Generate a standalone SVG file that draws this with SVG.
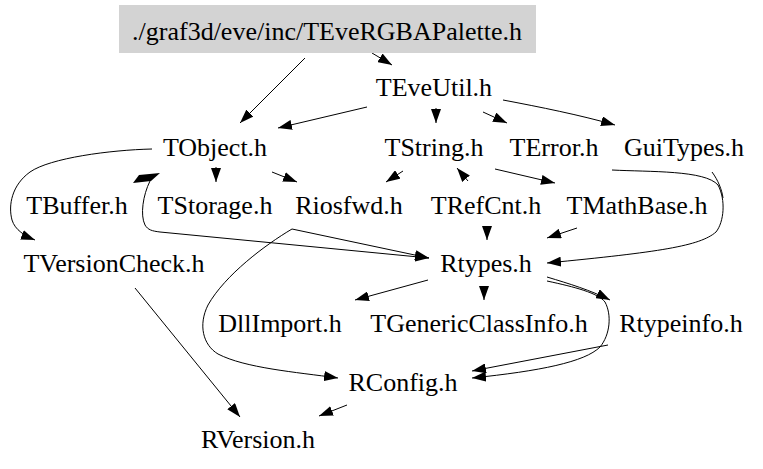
<svg xmlns="http://www.w3.org/2000/svg" width="763" height="469" viewBox="0 0 763 469">
<defs>
<style>
.t{font-family:'Liberation Serif','Times New Roman',Times,'DejaVu Serif',serif;font-size:26px;fill:#000;text-anchor:middle}
.e{fill:none;stroke:#000;stroke-width:1;marker-end:url(#ah)}
.n{fill:none;stroke:#000;stroke-width:1}
</style>
<marker id="ah" viewBox="0 0 14 10" refX="14" refY="5" markerWidth="14" markerHeight="10" markerUnits="userSpaceOnUse" orient="auto"><path d="M0,0 L14,5 L0,10 z" fill="#000"/></marker>
</defs>
<rect width="763" height="469" fill="#fff"/>
<g id="connectors">
<path class="e" d="M305,58 L240,123"/>
<path class="e" d="M372,53 L392,65"/>
<path class="e" d="M367,107 L278,128"/>
<path class="e" d="M436,108 L436,123"/>
<path class="e" d="M483,112 L507,123"/>
<path class="e" d="M503,100 C540,107 580,115 615,125"/>
<path class="e" d="M152,149 C110,150 50,158 30,172 C12,185 8,205 12,220 C15,230 25,236 35,240"/>
<path class="e" d="M216,167 L216,182"/>
<path class="e" d="M272,172 L297,182"/>
<polygon points="133,183 139,175 160,173 151,181" fill="#000"/>
<path class="e" d="M150,181 C143,195 140,215 145,225 C148,230 152,231 160,232 L429,258"/>
<path class="e" d="M292,229 L429,258"/>
<path class="e" d="M292,229 C265,245 225,275 208,305 C198,325 203,345 218,354 C245,368 295,372 338,378"/>
<path class="e" d="M403,171 L386,182"/>
<path class="e" d="M468,181 L457,168"/>
<path class="e" d="M495,169 L555,183"/>
<path class="e" d="M487,226 L487,240"/>
<path class="e" d="M577,228 L547,238"/>
<path class="e" d="M612,170 C650,172 705,170 718,185 C726,200 724,222 716,232 C700,246 660,252 547,263"/>
<path class="n" d="M712,172 C718,180 722,190 723,198"/>
<path class="e" d="M428,280 L355,300"/>
<path class="e" d="M484,286 L484,300"/>
<path class="e" d="M547,277 C570,284 590,290 610,300"/>
<path class="e" d="M547,281 C575,287 598,293 605,302 C612,315 610,335 600,347 C585,362 540,371 472,378"/>
<path class="e" d="M608,345 L472,371"/>
<path class="e" d="M135,288 L240,417"/>
<path class="e" d="M347,405 L319,416"/>
</g>
<g class="t" font-family="Liberation Serif, Times New Roman, serif" font-size="26" text-anchor="middle">
<g id="node-TEveRGBAPalette"><rect x="119" y="5" width="417" height="48" fill="#d3d3d3"/><text class="t" x="327" y="40">./graf3d/eve/inc/TEveRGBAPalette.h</text></g>
<g id="node-TEveUtil"><text class="t" x="434" y="96">TEveUtil.h</text></g>
<g id="node-TObject"><text class="t" x="215" y="156">TObject.h</text></g>
<g id="node-TString"><text class="t" x="434" y="156">TString.h</text></g>
<g id="node-TError"><text class="t" x="554" y="156">TError.h</text></g>
<g id="node-GuiTypes"><text class="t" x="684" y="156">GuiTypes.h</text></g>
<g id="node-TBuffer"><text class="t" x="77" y="214">TBuffer.h</text></g>
<g id="node-TStorage"><text class="t" x="215" y="214">TStorage.h</text></g>
<g id="node-Riosfwd"><text class="t" x="349" y="214">Riosfwd.h</text></g>
<g id="node-TRefCnt"><text class="t" x="486" y="214">TRefCnt.h</text></g>
<g id="node-TMathBase"><text class="t" x="637" y="214">TMathBase.h</text></g>
<g id="node-TVersionCheck"><text class="t" x="114" y="272">TVersionCheck.h</text></g>
<g id="node-Rtypes"><text class="t" x="486" y="272">Rtypes.h</text></g>
<g id="node-DllImport"><text class="t" x="280" y="332">DllImport.h</text></g>
<g id="node-TGenericClassInfo"><text class="t" x="479" y="332">TGenericClassInfo.h</text></g>
<g id="node-Rtypeinfo"><text class="t" x="681" y="332">Rtypeinfo.h</text></g>
<g id="node-RConfig"><text class="t" x="403" y="391">RConfig.h</text></g>
<g id="node-RVersion"><text class="t" x="258" y="448">RVersion.h</text></g>
</g>
</svg>
